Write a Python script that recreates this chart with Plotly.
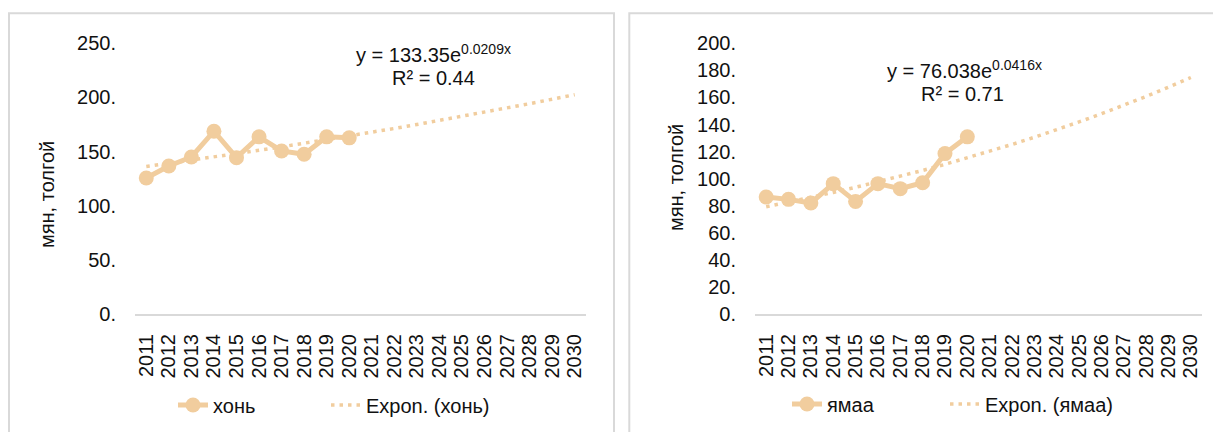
import numpy as np
import plotly.graph_objects as go

# ---------------- data ----------------
years = [str(y) for y in range(2011, 2031)]
obs_years = years[:10]
khon = [125.6, 136.7, 145.0, 168.8, 144.4, 163.6, 150.6, 147.5, 163.6, 162.7]
yamaa = [86.4, 84.7, 82.0, 96.3, 83.2, 96.3, 92.6, 97.0, 118.5, 130.9]

# exponential trend equations printed on the chart: y = a * e^(b x), x = 1..20
khon_a, khon_b, khon_r2 = 133.35, 0.0209, 0.44
yamaa_a, yamaa_b, yamaa_r2 = 76.038, 0.0416, 0.71

left_ticks = [0, 50, 100, 150, 200, 250]
left_ticktext = ["0.", "50.", "100.", "150.", "200.", "250."]
right_ticks = [0, 20, 40, 60, 80, 100, 120, 140, 160, 180, 200]
right_ticktext = ["0.", "20.", "40.", "60.", "80.", "100.", "120.", "140.", "160.", "180.", "200."]

y_title = "мян, толгой"
names = ["хонь", "ямаа"]

# ---------------- style ----------------
OFF = 8                      # page body margin
W, H = 1221 - OFF, 432 - OFF
COL = "#F1CD9E"
TXT = "#111111"
FONT = "Liberation Sans, Arial, sans-serif"
FS = 20


def px_x(v):
    return (v - OFF) / W


def px_y(v):
    return 1 - (v - OFF) / H


t_idx = np.arange(1, len(years) + 1)
khon_trend = khon_a * np.exp(khon_b * t_idx)
yamaa_trend = yamaa_a * np.exp(yamaa_b * t_idx)

fig = go.Figure()

trend_line = dict(color=COL, width=3.5, dash="3.5px,5px")
series_line = dict(color=COL, width=5)
series_marker = dict(color=COL, size=15)

# left panel
fig.add_trace(go.Scatter(x=years, y=khon_trend, mode="lines", name="Expon. (хонь)",
                         line=trend_line, xaxis="x", yaxis="y", legend="legend2"))
fig.add_trace(go.Scatter(x=obs_years, y=khon, mode="lines+markers", name=names[0],
                         line=series_line, marker=series_marker,
                         xaxis="x", yaxis="y", legend="legend"))
# right panel
fig.add_trace(go.Scatter(x=years, y=yamaa_trend, mode="lines", name="Expon. (ямаа)",
                         line=trend_line, xaxis="x2", yaxis="y2", legend="legend4"))
fig.add_trace(go.Scatter(x=obs_years, y=yamaa, mode="lines+markers", name=names[1],
                         line=series_line, marker=series_marker,
                         xaxis="x2", yaxis="y2", legend="legend3"))

xcommon = dict(type="category", categoryorder="array", categoryarray=years,
               range=[-0.5, len(years) - 0.5],
               tickmode="array", tickvals=years, ticktext=years,
               tickangle=-90, showgrid=False, zeroline=False, showline=True,
               linecolor="#d9d9d9", linewidth=2, ticks="", ticklabelstandoff=10,
               tickfont=dict(size=FS, color=TXT, family=FONT), fixedrange=True,
               automargin=False)
ycommon = dict(showgrid=False, zeroline=False, showline=False, ticks="",
               ticklabelstandoff=18, tickfont=dict(size=FS, color=TXT, family=FONT),
               fixedrange=True, automargin=False)

plot_top, plot_bot = 43.3, 314

legend_common = dict(orientation="h", yanchor="middle", xanchor="left",
                     font=dict(size=FS, color=TXT, family=FONT),
                     bgcolor="rgba(0,0,0,0)", borderwidth=0,
                     itemclick=False, itemdoubleclick=False)

fig.update_layout(
    width=W, height=H,
    margin=dict(l=0, r=0, t=0, b=0, pad=0, autoexpand=False),
    paper_bgcolor="white", plot_bgcolor="white",
    font=dict(family=FONT, size=FS, color=TXT),
    showlegend=True,
    xaxis=dict(domain=[px_x(135), px_x(586)], anchor="y", **xcommon),
    yaxis=dict(domain=[px_y(plot_bot), px_y(plot_top)], anchor="x", range=[0, 250],
               tickvals=left_ticks, ticktext=left_ticktext, **ycommon),
    xaxis2=dict(domain=[px_x(755), px_x(1202)], anchor="y2", **xcommon),
    yaxis2=dict(domain=[px_y(plot_bot), px_y(plot_top)], anchor="x2", range=[0, 200],
                tickvals=right_ticks, ticktext=right_ticktext, **ycommon),
    legend=dict(x=px_x(173), y=px_y(405), **legend_common),
    legend2=dict(x=px_x(326), y=px_y(405), **legend_common),
    legend3=dict(x=px_x(787), y=px_y(404), **legend_common),
    legend4=dict(x=px_x(945), y=px_y(404), **legend_common),
    shapes=[
        dict(type="rect", xref="paper", yref="paper", x0=px_x(9), x1=px_x(614),
             y0=-0.1, y1=px_y(13.3), line=dict(color="#d9d9d9", width=2), layer="below"),
        dict(type="rect", xref="paper", yref="paper", x0=px_x(629.3), x1=px_x(1240),
             y0=-0.1, y1=px_y(13.3), line=dict(color="#d9d9d9", width=2), layer="below"),
    ],
    annotations=[
        dict(text=y_title, textangle=-90, xref="paper", yref="paper",
             x=px_x(47), y=px_y(195), showarrow=False, xanchor="center", yanchor="middle",
             font=dict(size=FS, color=TXT, family=FONT)),
        dict(text=y_title, textangle=-90, xref="paper", yref="paper",
             x=px_x(676), y=px_y(178), showarrow=False, xanchor="center", yanchor="middle",
             font=dict(size=FS, color=TXT, family=FONT)),
        dict(text=f"y = {khon_a}e<sup>{khon_b}x</sup>", xref="paper", yref="paper",
             x=px_x(433), y=px_y(53), showarrow=False, xanchor="center", yanchor="middle",
             font=dict(size=FS, color=TXT, family=FONT)),
        dict(text=f"R² = {khon_r2}", xref="paper", yref="paper",
             x=px_x(433), y=px_y(78), showarrow=False, xanchor="center", yanchor="middle",
             font=dict(size=FS, color=TXT, family=FONT)),
        dict(text=f"y = {yamaa_a}e<sup>{yamaa_b}x</sup>", xref="paper", yref="paper",
             x=px_x(964), y=px_y(69), showarrow=False, xanchor="center", yanchor="middle",
             font=dict(size=FS, color=TXT, family=FONT)),
        dict(text=f"R² = {yamaa_r2}", xref="paper", yref="paper",
             x=px_x(962), y=px_y(94), showarrow=False, xanchor="center", yanchor="middle",
             font=dict(size=FS, color=TXT, family=FONT)),
    ],
)

fig.write_html("out.html")
